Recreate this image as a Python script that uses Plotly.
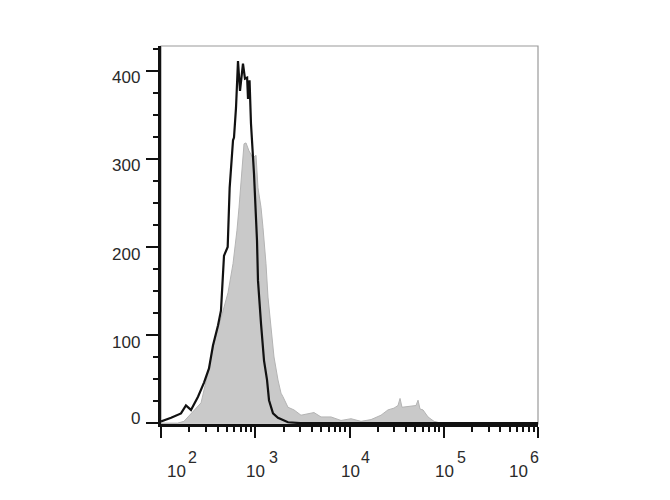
import plotly.graph_objects as go

# control (black outline) histogram
ctrl_x = [100, 128, 163, 184, 208, 247, 286, 323, 356, 403, 433, 455, 466, 510,
          535, 581, 595, 625, 656, 689, 741, 778, 820, 838, 870, 901, 970, 1044,
          1069, 1151, 1239, 1333, 1400, 1543, 1742, 2225, 3000, 1000000]
ctrl_y = [2, 6, 11, 20, 15, 30, 46, 62, 88, 111, 128, 162, 190, 200,
          267, 321, 324, 358, 411, 377, 408, 391, 392, 368, 389, 340, 283, 207,
          162, 113, 71, 49, 26, 11, 6, 1, 0, 0]

# stained sample (grey filled) histogram
stain_x = [100, 150, 175, 266, 315, 365, 433, 514, 581, 625, 640, 673, 723, 760,
           798, 858, 946, 1019, 1069, 1151, 1208, 1300, 1365, 1469, 1581, 1742,
           1876, 1968, 2225, 2576, 3057, 4198, 4986, 6366, 8128, 10380, 13250,
           16920, 21600, 25600, 29640, 32700, 34360, 36060, 44970, 50800, 53330,
           55990, 60230, 68060, 78850, 93500, 1000000]
stain_y = [0, 0, 2, 23, 57, 91, 119, 148, 181, 207, 219, 245, 283, 317,
           318, 309, 301, 304, 267, 245, 222, 181, 143, 105, 75, 49,
           34, 30, 18, 15, 9, 12, 7, 7, 3, 5, 2,
           4, 9, 15, 17, 20, 28, 18, 19, 20, 26,
           16, 15, 7, 2, 0, 0]

x_major = [100, 1000, 10000, 100000, 1000000]
x_exponents = [2, 3, 4, 5, 6]
y_major = [0, 100, 200, 300, 400]

x_minor = [m * 10 ** e for e in range(2, 6) for m in range(2, 10)]
x_mid = [5 * 10 ** e for e in range(2, 6)]
y_minor = list(range(0, 426, 25))

# label offsets (px) copied from the original export: end labels pulled inside
base_shift = [15, 0, 1, 1, -20]
exp_shift = [31, 18, 16, 18, -4]
ylab_shift = [5, -7, -8, -7, -7]

fig = go.Figure()

fig.add_trace(go.Scatter(
    x=stain_x, y=stain_y,
    mode="lines",
    fill="tozeroy",
    fillcolor="#c9c9c9",
    line=dict(color="#b4b4b4", width=1),
    showlegend=False,
))

fig.add_trace(go.Scatter(
    x=ctrl_x, y=ctrl_y,
    mode="lines",
    line=dict(color="#111111", width=2.2),
    showlegend=False,
))

# grey frame on top and right
fig.add_shape(type="rect", xref="paper", yref="paper", x0=0, y0=0, x1=1, y1=1,
              line=dict(color="#9a9a9a", width=1.2), layer="below")

# x tick labels 10^n written as base + exponent
for e, bs, es in zip(x_exponents, base_shift, exp_shift):
    fig.add_annotation(x=e, y=0, xref="x", yref="paper", text="10",
                       showarrow=False, xanchor="center", yanchor="middle",
                       xshift=bs, yshift=-47, font=dict(size=17))
    fig.add_annotation(x=e, y=0, xref="x", yref="paper", text=str(e),
                       showarrow=False, xanchor="center", yanchor="middle",
                       xshift=es, yshift=-33, font=dict(size=16))

# y tick labels, sitting a little below their ticks
for v, ys in zip(y_major, ylab_shift):
    fig.add_annotation(x=0, y=v, xref="paper", yref="y", text=str(v),
                       showarrow=False, xanchor="right", yanchor="middle",
                       xshift=-19, yshift=ys, font=dict(size=17))

fig.update_layout(
    width=670, height=500,
    margin=dict(l=153, r=140, t=38, b=84),
    paper_bgcolor="white",
    plot_bgcolor="white",
    font=dict(family="Liberation Sans, Arial, sans-serif", color="#2a2a2a"),
    xaxis=dict(
        type="log", range=[2, 6],
        showgrid=False, zeroline=False,
        showline=True, linecolor="#111111", linewidth=2.5,
        tickmode="array", tickvals=x_major, showticklabels=False,
        ticks="outside", ticklen=11, tickwidth=2, tickcolor="#111111",
        minor=dict(tickmode="array", tickvals=x_minor, ticks="outside",
                   ticklen=5, tickwidth=1.5, tickcolor="#111111"),
    ),
    xaxis2=dict(
        type="log", range=[2, 6], overlaying="x", anchor="y", side="bottom",
        showgrid=False, zeroline=False, showline=False,
        tickmode="array", tickvals=x_mid, showticklabels=False,
        ticks="outside", ticklen=8, tickwidth=2, tickcolor="#111111",
    ),
    yaxis=dict(
        range=[-1, 428],
        showgrid=False, zeroline=False,
        showline=True, linecolor="#111111", linewidth=2.5,
        tickmode="array", tickvals=y_major, showticklabels=False,
        ticks="outside", ticklen=12, tickwidth=2, tickcolor="#111111",
        minor=dict(tickmode="array", tickvals=y_minor, ticks="outside",
                   ticklen=5, tickwidth=1.5, tickcolor="#111111"),
    ),
)

fig.write_html("out.html")
